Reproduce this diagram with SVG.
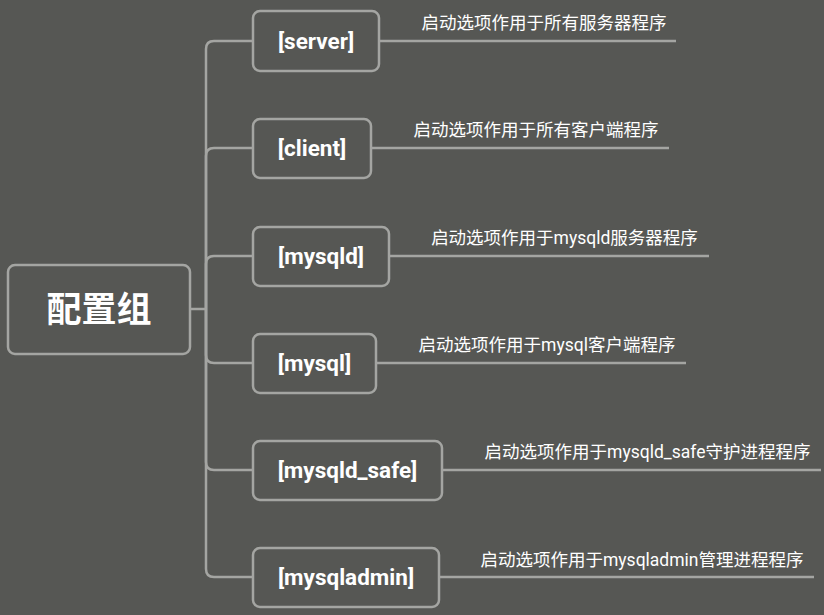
<svg xmlns="http://www.w3.org/2000/svg" width="824" height="615" viewBox="0 0 824 615">
<style>
.bg{fill:#565754}
.box{fill:#565754;stroke:#a4a5a2;stroke-width:2.5}
.ln{fill:none;stroke:#a4a5a2;stroke-width:2.5}
.lbl{font-family:Roboto,"Liberation Sans","Noto Sans CJK SC",sans-serif;font-weight:bold;font-size:22.5px;fill:#ffffff;text-anchor:middle}
.root{font-family:"Noto Sans CJK SC",sans-serif;font-weight:bold;font-size:35px;fill:#ffffff;text-anchor:middle}
.desc{font-family:Roboto,"Noto Sans CJK SC",sans-serif;font-size:17.5px;fill:#ffffff;text-anchor:middle}
</style>
<rect class="bg" x="0" y="0" width="824" height="615"/>
<g id="connectors">
<path class="ln" d="M190,309 H206"/>
<path class="ln" d="M206,309 V49 Q206,41 214,41 H253"/>
<path class="ln" d="M206,309 V156 Q206,148 214,148 H253"/>
<path class="ln" d="M206,309 V264 Q206,256 214,256 H253"/>
<path class="ln" d="M206,309 V355 Q206,363 214,363 H253"/>
<path class="ln" d="M206,309 V462 Q206,470 214,470 H253"/>
<path class="ln" d="M206,309 V569 Q206,577 214,577 H253"/>
<path class="ln" d="M379,41 H676"/>
<path class="ln" d="M371,148 H669"/>
<path class="ln" d="M389,256 H709"/>
<path class="ln" d="M376,363 H686"/>
<path class="ln" d="M442,470 H821"/>
<path class="ln" d="M439,577 H814"/>
</g>
<g id="root">
<rect class="box" x="8" y="265" width="182" height="89" rx="7"/>
<text class="root" x="99" y="322">配置组</text>
</g>
<g id="server">
<rect class="box" x="253" y="11" width="126" height="60" rx="7"/>
<text class="lbl" x="316" y="49">[server]</text>
<text class="desc" x="544" y="29">启动选项作用于所有服务器程序</text>
</g>
<g id="client">
<rect class="box" x="253" y="119" width="118" height="59" rx="7"/>
<text class="lbl" x="312" y="156">[client]</text>
<text class="desc" x="536" y="136">启动选项作用于所有客户端程序</text>
</g>
<g id="mysqld">
<rect class="box" x="253" y="227" width="136" height="59" rx="7"/>
<text class="lbl" x="321" y="264">[mysqld]</text>
<text class="desc" x="564.5" y="244">启动选项作用于mysqld服务器程序</text>
</g>
<g id="mysql">
<rect class="box" x="253" y="334" width="123" height="59" rx="7"/>
<text class="lbl" x="314.5" y="371">[mysql]</text>
<text class="desc" x="547" y="351">启动选项作用于mysql客户端程序</text>
</g>
<g id="mysqld_safe">
<rect class="box" x="253" y="441" width="189" height="59" rx="7"/>
<text class="lbl" x="347.5" y="478">[mysqld_safe]</text>
<text class="desc" x="647.5" y="458">启动选项作用于mysqld_safe守护进程程序</text>
</g>
<g id="mysqladmin">
<rect class="box" x="253" y="548" width="186" height="59" rx="7"/>
<text class="lbl" x="346" y="585">[mysqladmin]</text>
<text class="desc" x="642" y="566">启动选项作用于mysqladmin管理进程程序</text>
</g>
</svg>
